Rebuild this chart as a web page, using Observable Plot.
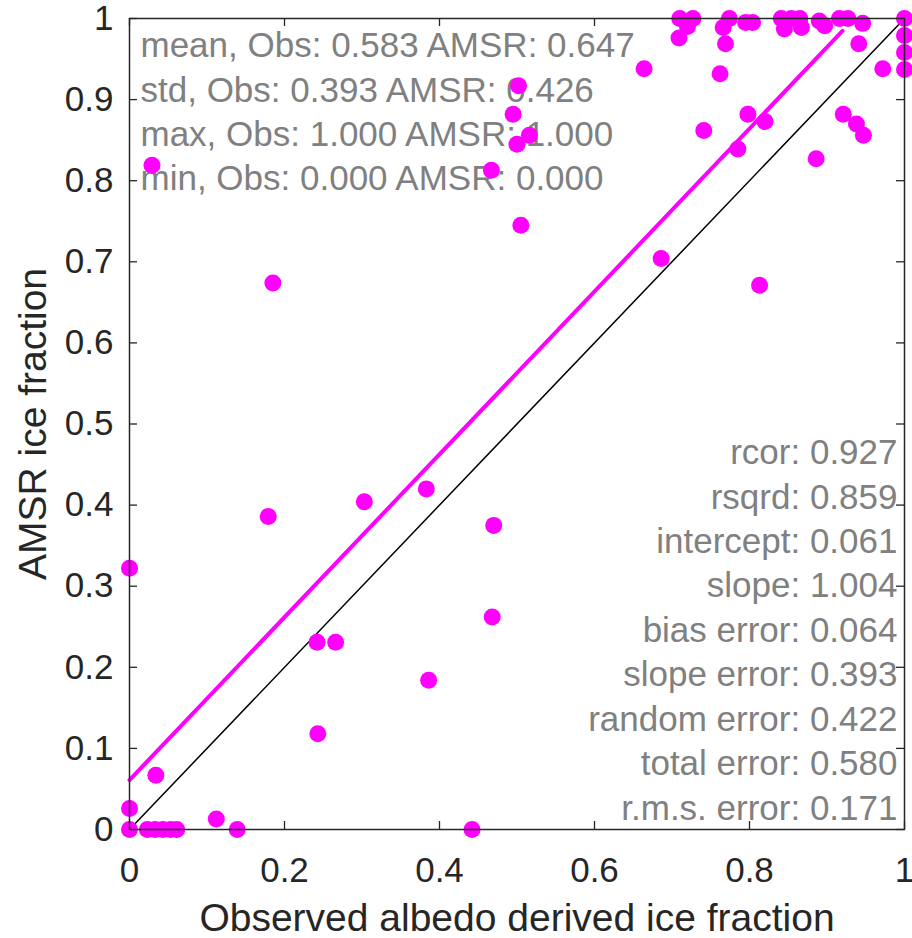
<!DOCTYPE html>
<html>
<head>
<meta charset="utf-8">
<script src="https://cdn.jsdelivr.net/npm/d3@7"></script>
<script src="https://cdn.jsdelivr.net/npm/@observablehq/plot@0.6"></script>
<style>
  html, body { margin: 0; padding: 0; background: #ffffff; }
  #chart svg { display: block; }
</style>
</head>
<body>
<div id="chart"></div>
<script>
// Observed albedo derived ice fraction (x) vs AMSR ice fraction (y)
const obsFraction = [
  0, 0, 0.034, 0.023, 0.033, 0.043, 0.053, 0.061, 0.112, 0.139, 0.243, 0.442,
  0.185, 0.179, 0.303, 0.383, 0, 0.470, 0.468, 0.242, 0.266, 0.386,
  0.505, 0.686, 0.813,
  0.029, 0.467, 0.500, 0.516, 0.495, 0.502, 0.664,
  0.741, 0.785, 0.798, 0.820, 0.886, 0.921, 0.938, 0.947,
  0.762, 0.769, 0.709, 0.941, 0.972,
  0.710, 0.727, 0.720, 0.766, 0.774, 0.795, 0.804, 0.841, 0.854, 0.865, 0.845, 0.867, 0.890, 0.897, 0.916, 0.927, 0.946,
  1, 1, 1, 1
];
const amsrFraction = [
  0, 0.026, 0.067, 0, 0, 0, 0, 0, 0.013, 0, 0.118, 0,
  0.674, 0.386, 0.404, 0.420, 0.322, 0.375, 0.262, 0.231, 0.231, 0.184,
  0.745, 0.704, 0.671,
  0.819, 0.813, 0.845, 0.856, 0.882, 0.917, 0.938,
  0.862, 0.839, 0.882, 0.873, 0.827, 0.882, 0.870, 0.856,
  0.932, 0.969, 0.976, 0.969, 0.938,
  1.0, 1.0, 0.990, 0.989, 1.0, 0.995, 0.995, 1.0, 1.0, 1.0, 0.987, 0.989, 0.997, 0.991, 1.0, 1.0, 0.994,
  1.0, 0.979, 0.958, 0.937
];

// regression fit
const fitIntercept = 0.061;
const fitSlope = 1.004;
const fitXRange = [0, 0.92];
const identityRange = [0, 1];

const xTicks = [0, 0.2, 0.4, 0.6, 0.8, 1];
const yTicks = [0, 0.1, 0.2, 0.3, 0.4, 0.5, 0.6, 0.7, 0.8, 0.9, 1];

const statsTop = [
  "mean, Obs: 0.583 AMSR: 0.647",
  "std, Obs: 0.393 AMSR: 0.426",
  "max, Obs: 1.000 AMSR: 1.000",
  "min, Obs: 0.000 AMSR: 0.000"
];
const statsRight = [
  "rcor: 0.927",
  "rsqrd: 0.859",
  "intercept: 0.061",
  "slope: 1.004",
  "bias error: 0.064",
  "slope error: 0.393",
  "random error: 0.422",
  "total error: 0.580",
  "r.m.s. error: 0.171"
];

const xLabel = "Observed albedo derived ice fraction";
const yLabel = "AMSR ice fraction";

// build tables
const points = obsFraction.map((x, i) => ({x, y: amsrFraction[i]}));
const fitLine = fitXRange.map(x => ({x, y: fitIntercept + fitSlope * x}));
const identityLine = identityRange.map(v => ({x: v, y: v}));

const axisColor = "#262626";
const statColor = "#808080";
const magenta = "#ff00ff";
const tickLenY = 8 / 811; // tick length in y units
const tickLenX = 8 / 776; // tick length in x units
const fmt = d => String(+d.toFixed(1));

const chart = Plot.plot({
  width: 912,
  height: 938,
  marginLeft: 129,
  marginRight: 8,
  marginTop: 18,
  marginBottom: 109,
  x: {domain: [0, 1]},
  y: {domain: [0, 1]},
  style: {
    fontFamily: "'Liberation Sans', Arial, Helvetica, sans-serif",
    fontSize: "35px",
    color: axisColor,
    background: "#ffffff",
    overflow: "visible"
  },
  marks: [
    // axes tick labels
    Plot.axisX(xTicks, {anchor: "bottom", tickSize: 0, tickPadding: 28, tickFormat: fmt, fontSize: 35, label: null, fill: axisColor}),
    Plot.axisY(yTicks, {anchor: "left", tickSize: 0, tickPadding: 16, tickFormat: fmt, fontSize: 35, label: null, fill: axisColor}),
    // inward ticks on all four sides
    Plot.ruleX(xTicks, {x: d => d, y1: 0, y2: tickLenY, stroke: axisColor, strokeWidth: 1.3}),
    Plot.ruleX(xTicks, {x: d => d, y1: 1, y2: 1 - tickLenY, stroke: axisColor, strokeWidth: 1.3}),
    Plot.ruleY(yTicks, {y: d => d, x1: 0, x2: tickLenX, stroke: axisColor, strokeWidth: 1.3}),
    Plot.ruleY(yTicks, {y: d => d, x1: 1, x2: 1 - tickLenX, stroke: axisColor, strokeWidth: 1.3}),
    // stats text
    Plot.text([statsTop.join("\n")], {
      frameAnchor: "top-left", textAnchor: "start", lineAnchor: "top",
      lineHeight: 1.27, dx: 11, dy: 7, fill: statColor, fontSize: 35
    }),
    Plot.text([statsRight.join("\n")], {
      frameAnchor: "top-right", textAnchor: "end", lineAnchor: "top",
      lineHeight: 1.27, dx: -7, dy: 414, fill: statColor, fontSize: 35
    }),
    // 1:1 line
    Plot.line(identityLine, {x: "x", y: "y", stroke: "#000000", strokeWidth: 1.5}),
    // regression line
    Plot.line(fitLine, {x: "x", y: "y", stroke: magenta, strokeWidth: 4}),
    // data points
    Plot.dot(points, {x: "x", y: "y", r: 8.5, fill: magenta, stroke: "none"}),
    // frame
    Plot.frame({stroke: axisColor, strokeWidth: 1.5}),
    // axis labels
    Plot.text([xLabel], {frameAnchor: "bottom", textAnchor: "middle", dy: 89, fontSize: 39, fill: axisColor, lineAnchor: "middle"}),
    Plot.text([yLabel], {frameAnchor: "left", textAnchor: "middle", dx: -96, rotate: -90, fontSize: 39, fill: axisColor, lineAnchor: "middle"})
  ]
});

document.getElementById("chart").appendChild(chart);
</script>
</body>
</html>
